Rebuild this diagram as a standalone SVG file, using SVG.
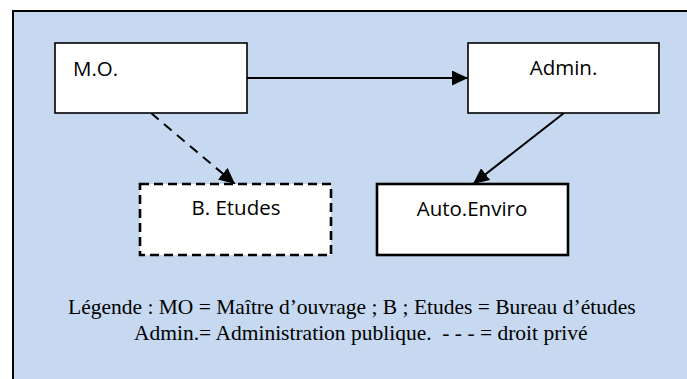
<svg xmlns="http://www.w3.org/2000/svg" width="687" height="379" viewBox="0 0 687 379">
<style>
.box{fill:#fff;stroke:#000;stroke-width:1.6}
.thick{stroke-width:2.6}
.dash{stroke-width:2.6;stroke-dasharray:9 5}
.lbl{font-family:"Open Sans","Liberation Sans",sans-serif;font-size:20.5px;fill:#000}
.leg{font-family:"Liberation Serif","Times New Roman",serif;font-size:21.5px;fill:#000}
.conn{stroke:#000;stroke-width:2;fill:none}
</style>
<defs>
<marker id="ah" markerUnits="userSpaceOnUse" markerWidth="17" markerHeight="15" refX="16" refY="7.5" orient="auto">
<path d="M0,0 L16,7.5 L0,15 Z" fill="#000"/>
</marker>
</defs>
<rect x="13" y="11" width="690" height="390" fill="#C6D9F1" stroke="#000" stroke-width="2"/>
<g id="connectors">
<line class="conn" x1="247" y1="78" x2="468" y2="78" marker-end="url(#ah)"/>
<line class="conn" x1="151" y1="113" x2="235" y2="184" stroke-width="2.5" stroke-dasharray="10 7" marker-end="url(#ah)"/>
<line class="conn" x1="564" y1="113" x2="473" y2="184" marker-end="url(#ah)"/>
</g>
<g id="mo">
<rect class="box" x="55" y="43" width="192" height="70"/>
<text class="lbl" x="73" y="76">M.O.</text>
</g>
<g id="admin">
<rect class="box" x="468" y="43" width="191" height="70"/>
<text class="lbl" x="563.5" y="74.5" text-anchor="middle">Admin.</text>
</g>
<g id="betudes">
<rect class="box dash" x="140" y="184" width="191" height="71"/>
<text class="lbl" x="236" y="215" text-anchor="middle">B. Etudes</text>
</g>
<g id="autoenviro">
<rect class="box thick" x="377" y="184" width="191" height="71"/>
<text class="lbl" x="472" y="216" text-anchor="middle">Auto.Enviro</text>
</g>
<g id="legend">
<text class="leg" x="68" y="314">Légende : MO = Maître d’ouvrage ; B ; Etudes = Bureau d’études</text>
<text class="leg" x="134" y="340" xml:space="preserve">Admin.= Administration publique.  - - - = droit privé</text>
</g>
</svg>
